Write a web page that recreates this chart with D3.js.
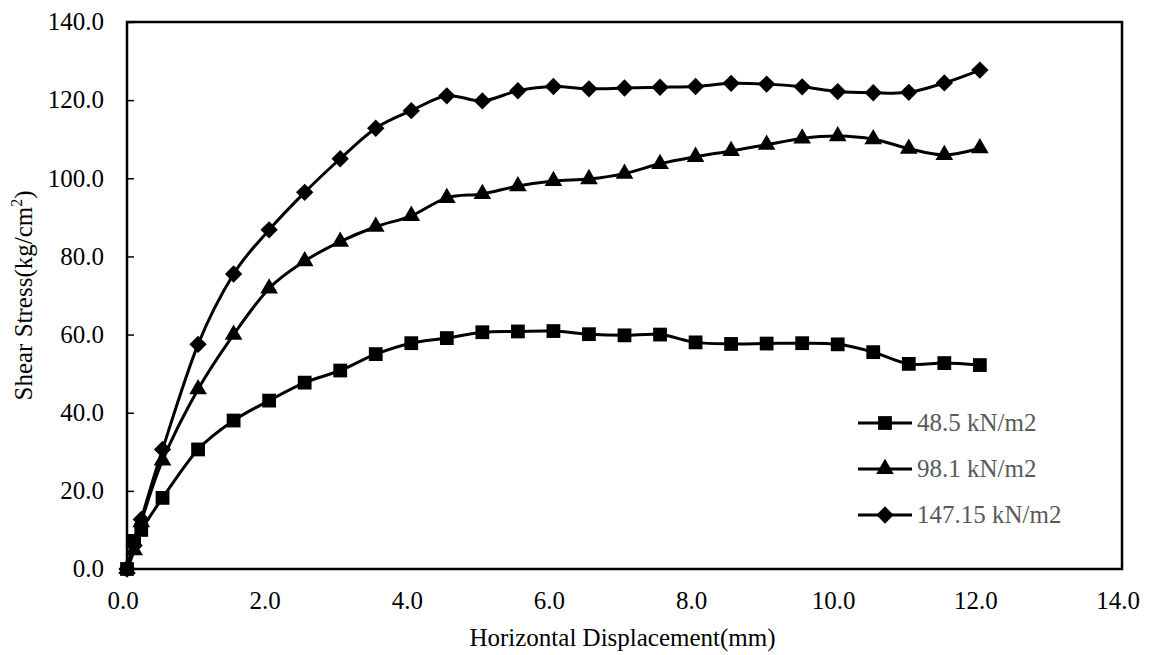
<!DOCTYPE html>
<html>
<head>
<meta charset="utf-8">
<script src="https://cdn.jsdelivr.net/npm/d3@7"></script>
<style>
  body { margin: 0; background: #fff; }
</style>
</head>
<body>
<svg id="chart"></svg>
<script>
'use strict'

const chartWidth = 1153,
      chartHeight = 655

// displacement (mm)
const displacement = [0, 0.1, 0.2, 0.5, 1.0, 1.5, 2.0, 2.5, 3.0, 3.5, 4.0, 4.5, 5.0, 5.5, 6.0,
  6.5, 7.0, 7.5, 8.0, 8.5, 9.0, 9.5, 10.0, 10.5, 11.0, 11.5, 12.0]

// shear stress for each normal stress
const stress485 = [0, 7.2, 10.0, 18.2, 30.6, 38.0, 43.1, 47.7, 50.8, 55.0, 57.8, 59.1, 60.6, 60.8, 60.9,
  60.1, 59.8, 60.0, 58.0, 57.6, 57.7, 57.8, 57.5, 55.5, 52.5, 52.7, 52.2]
const stress981 = [0, 4.8, 12.0, 27.8, 46.0, 60.0, 71.8, 78.8, 83.8, 87.6, 90.4, 95.0, 96.0, 98.0, 99.3,
  99.8, 101.2, 103.7, 105.5, 107.0, 108.6, 110.2, 110.8, 110.0, 107.6, 106.0, 107.7]
const stress14715 = [0, 6.0, 12.7, 30.6, 57.5, 75.5, 86.8, 96.4, 105.0, 112.8, 117.3, 121.1, 119.8, 122.4, 123.5,
  122.9, 123.1, 123.3, 123.5, 124.3, 124.1, 123.4, 122.2, 121.9, 122.0, 124.4, 127.7]

const seriesNames = ['48.5 kN/m2', '98.1 kN/m2', '147.15 kN/m2']
const seriesValues = [stress485, stress981, stress14715]
const seriesSymbols = [d3.symbolSquare, d3.symbolTriangle, d3.symbolSquare]
const symbolSizes = [190, 135, 150]
const symbolRotate = [0, 0, 45] // the diamond is a turned square

const xTicks = [0, 2, 4, 6, 8, 10, 12, 14]
const yTicks = [0, 20, 40, 60, 80, 100, 120, 140]

const font = 'Liberation Serif'
const fontSize = 25

const plot = { left: 127, right: 1122, top: 22, bottom: 569 }

const x = d3.scaleLinear().domain([0, 14]).range([plot.left, plot.right])
const y = d3.scaleLinear().domain([0, 140]).range([plot.bottom, plot.top])

const svg = d3.select('#chart')
  .attr('width', chartWidth)
  .attr('height', chartHeight)
  .attr('font-family', font)

svg.append('rect')
  .attr('width', chartWidth).attr('height', chartHeight)
  .attr('fill', '#fff')

// plot border
svg.append('rect')
  .attr('x', plot.left).attr('y', plot.top)
  .attr('width', plot.right - plot.left).attr('height', plot.bottom - plot.top)
  .attr('fill', 'none').attr('stroke', '#000').attr('stroke-width', 2.5)

// y axis (ticks inside)
const yAxis = svg.append('g')
  .attr('transform', `translate(${plot.left},0)`)
  .call(d3.axisRight(y).tickValues(yTicks).tickSize(7).tickFormat(''))
yAxis.select('.domain').remove()
yAxis.selectAll('line').attr('stroke', '#000').attr('stroke-width', 1.5)

svg.append('g').selectAll('text')
  .data(yTicks)
  .enter().append('text')
    .attr('x', 104)
    .attr('y', d => y(d))
    .attr('dy', '0.33em')
    .attr('text-anchor', 'end')
    .attr('font-size', fontSize)
    .attr('font-family', font)
    .text(d3.format('.1f'))

// x axis labels (no tick marks)
svg.append('g').selectAll('text')
  .data(xTicks)
  .enter().append('text')
    .attr('x', d => x(d) - 4)
    .attr('y', 609)
    .attr('text-anchor', 'middle')
    .attr('font-size', fontSize)
    .attr('font-family', font)
    .text(d3.format('.1f'))

// axis titles
svg.append('text')
  .attr('x', (plot.left + plot.right) / 2 - 2).attr('y', 646)
  .attr('text-anchor', 'middle')
  .attr('font-size', fontSize)
  .attr('font-family', font)
  .text('Horizontal Displacement(mm)')

const yTitle = svg.append('text')
  .attr('transform', `translate(32,${(plot.top + plot.bottom) / 2}) rotate(-90)`)
  .attr('text-anchor', 'middle')
  .attr('font-size', fontSize)
  .attr('font-family', font)
yTitle.append('tspan').text('Shear Stress(kg/cm')
yTitle.append('tspan').attr('font-size', 16).attr('dy', -10).text('2')
yTitle.append('tspan').attr('dy', 10).text(')')

// smoothed lines, like the spreadsheet chart
const line = d3.line()
  .x((d, i) => x(displacement[i]))
  .y(d => y(d))
  .curve(d3.curveCardinal.tension(0))

const gSeries = svg.append('g')
seriesValues.forEach((values, s) => {
  gSeries.append('path')
    .datum(values)
    .attr('d', line)
    .attr('fill', 'none')
    .attr('stroke', '#000')
    .attr('stroke-width', 3)

  gSeries.append('g').selectAll('path')
    .data(values)
    .enter().append('path')
      .attr('transform', (d, i) => `translate(${x(displacement[i])},${y(d)}) rotate(${symbolRotate[s]})`)
      .attr('d', d3.symbol(seriesSymbols[s], symbolSizes[s]))
      .attr('fill', '#000')
})

// legend
const legend = svg.append('g')
const legendRows = [423, 469, 515]
seriesNames.forEach((name, s) => {
  const g = legend.append('g').attr('transform', `translate(858,${legendRows[s]})`)
  g.append('line')
    .attr('x1', 0).attr('x2', 54)
    .attr('stroke', '#000').attr('stroke-width', 3)
  g.append('path')
    .attr('transform', `translate(27,0) rotate(${symbolRotate[s]})`)
    .attr('d', d3.symbol(seriesSymbols[s], symbolSizes[s]))
    .attr('fill', '#000')
  g.append('text')
    .attr('x', 59).attr('dy', '0.33em')
    .attr('font-size', fontSize)
    .attr('fill', '#595959')
    .attr('font-family', font)
    .text(name)
})
</script>
</body>
</html>
